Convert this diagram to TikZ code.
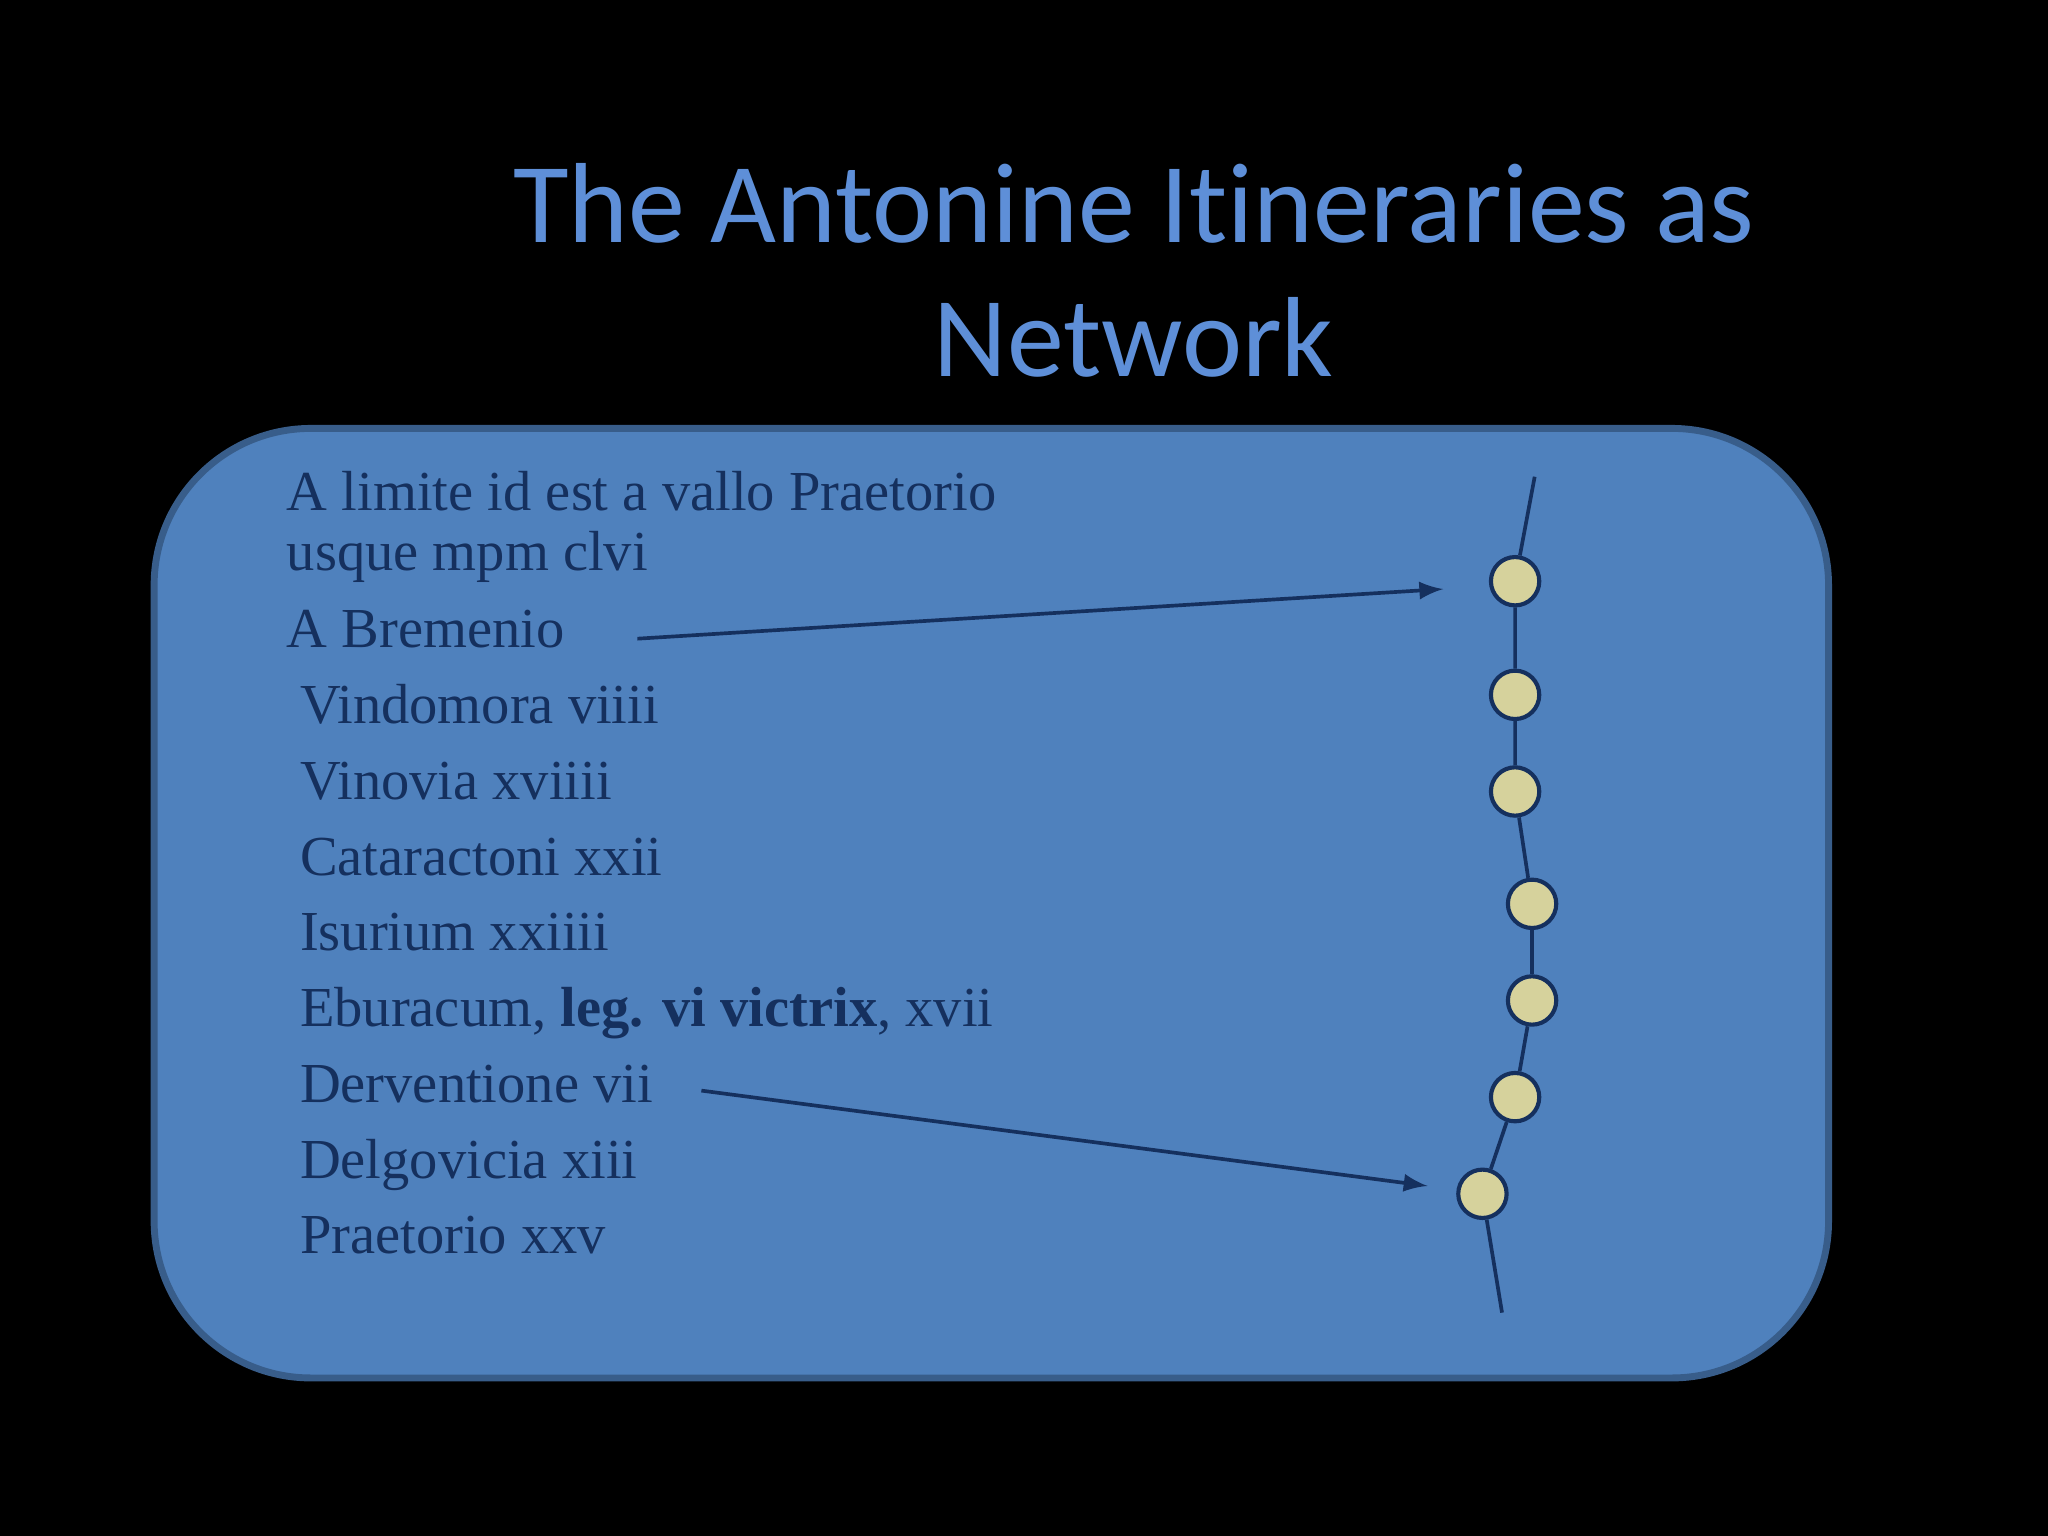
\documentclass[tikz,border=0pt]{standalone}
\usepackage{fontspec}
\setmainfont{Liberation Serif}
\newfontfamily\titlefont{Carlito}
\definecolor{bgbox}{HTML}{4F81BD}
\definecolor{boxline}{HTML}{385D8A}
\definecolor{navy}{HTML}{15305E}
\definecolor{titleblue}{HTML}{5E8FD8}
\definecolor{dotfill}{HTML}{D6D29C}
\begin{document}
\begin{tikzpicture}[x=0.01cm,y=-0.01cm,
  stop/.style={circle,draw=navy,line width=0.9pt,fill=dotfill,minimum size=0.37cm,inner sep=0pt},
  road/.style={navy,line width=0.8pt},
  pointer/.style={navy,line width=0.8pt,-latex},
  item/.style={anchor=base west,inner sep=0pt,text=navy,font=\fontsize{12.3}{14}\selectfont}]
\fill[black] (0,0) rectangle (1568,1176);
\useasboundingbox (0,0) rectangle (1568,1176);
\node[text=titleblue,font=\titlefont\fontsize{24.8}{29}\selectfont,align=center] (title) at (868,207) {The Antonine It\kern0pt ineraries as\\Network};
\draw[fill=bgbox,draw=boxline,line width=1.5pt,rounded corners=1.2cm] (118,328) rectangle (1400,1055);
\node[item] (t1) at (219,391) {A limite id est a vallo Praetorio};
\node[item] (t2) at (219,437) {usque mpm clvi};
\node[item] (t3) at (219,496) {A Bremenio};
\node[item] (t4) at (229,554) {Vindomora viiii};
\node[item] (t5) at (229,612) {Vinovia xviiii};
\node[item] (t6) at (229,670) {Cataractoni xxii};
\node[item] (t7) at (229,728) {Isurium xxiiii};
\node[item] (t8) at (229,786) {Eburacum, \textbf{leg. vi victrix}, xvii};
\node[item] (t9) at (229,844) {Derventione vii};
\node[item] (t10) at (229,902) {Delgovicia xiii};
\node[item] (t11) at (229,960) {Praetorio xxv};
\coordinate (top) at (1175,365);
\coordinate (bot) at (1150,1005);
\node[stop] (c1) at (1160,445) {};
\node[stop] (c2) at (1160,532) {};
\node[stop] (c3) at (1160,606) {};
\node[stop] (c4) at (1173,692) {};
\node[stop] (c5) at (1173,766) {};
\node[stop] (c6) at (1160,840) {};
\node[stop] (c7) at (1135,914) {};
\draw[road] (top) -- (c1) -- (c2) -- (c3) -- (c4) -- (c5) -- (c6) -- (c7) -- (bot);
\coordinate (a1s) at (488,489); \coordinate (a1e) at (1105,451);
\coordinate (a2s) at (537,835); \coordinate (a2e) at (1093,908);
\draw[pointer] (a1s) -- (a1e);
\draw[pointer] (a2s) -- (a2e);
\end{tikzpicture}
\end{document}
